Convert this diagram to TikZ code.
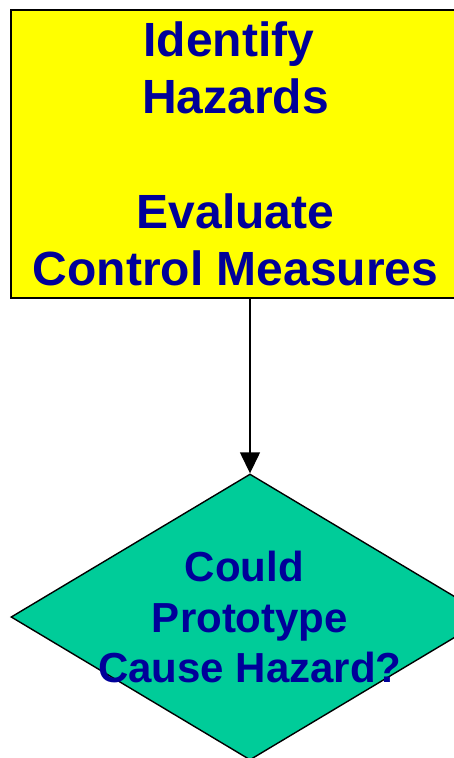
\documentclass[tikz,border=0pt]{standalone}
\usepackage{fontspec}
\setmainfont{Liberation Sans}
\usetikzlibrary{shapes.geometric,arrows.meta}
\definecolor{hazyellow}{RGB}{255,255,0}
\definecolor{decteal}{RGB}{0,204,153}
\definecolor{labelblue}{RGB}{0,0,153}
\tikzset{
  x=1pt, y=-1pt,
  processbox/.style={draw=black, line width=2pt, fill=hazyellow, rectangle,
    minimum width=449pt, minimum height=288pt, inner sep=0pt,
    text=labelblue, font=\bfseries\fontsize{48}{57}\selectfont, align=center},
  decision/.style={draw=black, line width=1.4pt, fill=decteal, diamond,
    minimum width=478pt, minimum height=286pt, inner sep=0pt},
  dectext/.style={text=labelblue, font=\bfseries\fontsize{42}{50.5}\selectfont,
    align=center, inner sep=0pt},
  flow/.style={draw=black, line width=1.4pt, -{Triangle[width=20pt,length=21pt]}}
}
\begin{document}
\begin{tikzpicture}
\useasboundingbox (0,0) rectangle (453,758);
% hazard identification step
\node[processbox] (box) at (235.5,154)
  {Identify\ \mbox{}\\Hazards\\[58pt]Evaluate\\Control Measures};
% decision step
\node[decision] (dec) at (250,617) {};
\node[dectext] (dectxt) at (dec.center)
  {Could\ \mbox{}\\Prototype\\Cause Hazard?};
% connector
\draw[flow] (dec.north |- box.south) -- (dec.north);
\end{tikzpicture}
\end{document}
